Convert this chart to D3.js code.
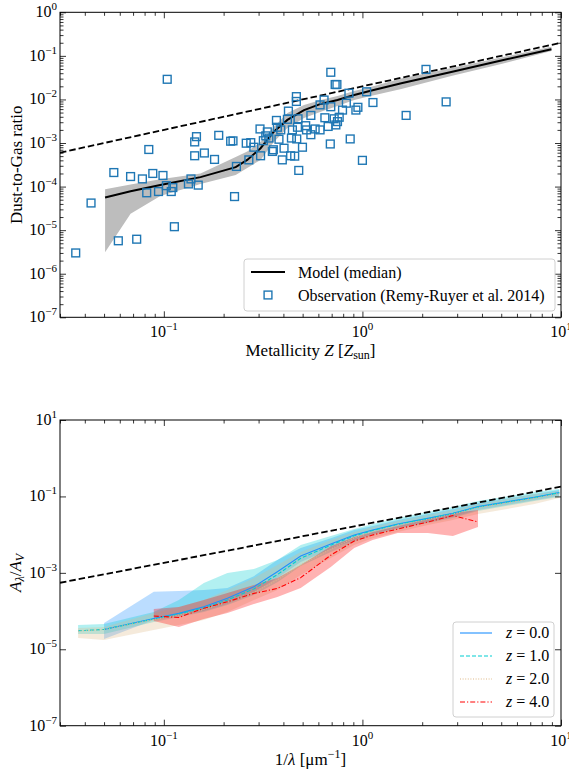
<!DOCTYPE html>
<html>
<head>
<meta charset="utf-8">
<script src="https://cdn.jsdelivr.net/npm/d3@7"></script>
<style>
  body { margin: 0; background: #fff; }
  svg { display: block; }
  text { font-family: "Liberation Serif", "Times New Roman", serif; fill: #000; }
</style>
</head>
<body>
<svg id="fig" width="569" height="772"></svg>
<script>
// ---------- Top panel: dust-to-gas ratio vs metallicity ----------
const obsZ = [0.036, 0.043, 0.059, 0.073, 0.113, 0.227, 0.104, 0.056, 0.068, 0.078,
  0.088, 0.099, 0.084, 0.082, 0.094, 0.103, 0.109, 0.111, 0.133, 0.137,
  0.149, 0.143, 0.146, 0.143, 0.160, 0.180, 0.189, 0.217, 0.223, 0.232,
  0.260, 0.274, 0.268, 0.284, 0.307, 0.305, 0.317, 0.332, 0.338, 0.352,
  0.356, 0.369, 0.373, 0.388, 0.395, 0.403, 0.419, 0.424, 0.439, 0.435,
  0.456, 0.474, 0.471, 0.467, 0.478, 0.499, 0.465, 0.465, 0.523, 0.550,
  0.550, 0.578, 0.612, 0.612, 0.641, 0.647, 0.672, 0.693, 0.729, 0.744,
  0.693, 0.689, 0.721, 0.749, 0.764, 0.735, 0.794, 0.830, 0.855, 0.868,
  0.927, 0.949, 1.00, 1.05, 1.13, 1.66, 2.09, 2.64, 0.326, 0.380,
  0.444, 0.518];
const obsDGR = [3.0e-6, 4.2e-5, 5.7e-6, 6.2e-6, 1.2e-5, 5.9e-5, 2.9e-2, 2.1e-4, 1.7e-4, 1.5e-4,
  2.0e-4, 1.8e-4, 7.1e-4, 7.2e-5, 7.7e-5, 1.05e-4, 7.7e-5, 9.5e-5, 1.15e-4, 1.5e-4,
  1.08e-4, 1.06e-3, 1.4e-3, 5.1e-4, 5.9e-4, 4.2e-4, 1.5e-3, 1.1e-3, 1.12e-3, 2.9e-4,
  9.9e-4, 1.02e-3, 4.1e-4, 8.0e-4, 5.1e-4, 2.1e-3, 1.13e-3, 1.8e-3, 1.3e-3, 6.4e-4,
  7.0e-4, 3.3e-3, 2.3e-3, 2.0e-3, 4.1e-4, 7.6e-4, 3.5e-3, 5.4e-3, 1.3e-3, 5.1e-4,
  5.0e-4, 3.6e-3, 2.3e-3, 1.24e-3, 2.35e-4, 8.0e-4, 1.16e-2, 9.0e-3, 2.0e-3, 4.3e-3,
  1.55e-3, 2.1e-3, 2.0e-3, 7.5e-3, 9.7e-3, 3.8e-3, 2.4e-3, 4.2e-2, 2.2e-2, 2.2e-2,
  6.8e-3, 9.5e-4, 3.6e-3, 3.1e-3, 3.9e-3, 2.6e-3, 5.7e-3, 8.2e-3, 1.39e-2, 1.24e-3,
  5.7e-3, 6.6e-3, 4.0e-4, 1.5e-2, 8.5e-3, 4.3e-3, 4.9e-2, 8.8e-3, 1.46e-3, 1.22e-3,
  2.0e-3, 2.5e-3];

const modelZ   = [0.0506, 0.068, 0.096, 0.153, 0.230, 0.263, 0.307, 0.358, 0.419, 0.508,
  0.617, 0.749, 0.909, 1.10, 1.57, 2.80, 5.0, 8.95];
const modelMed = [5.6e-5, 7.8e-5, 1.09e-4, 1.65e-4, 2.79e-4, 4.1e-4, 7.6e-4, 1.82e-3, 3.39e-3, 5.7e-3,
  7.9e-3, 9.7e-3, 1.27e-2, 1.59e-2, 2.35e-2, 4.27e-2, 7.8e-2, 0.142];
const modelLo  = [3.1e-6, 2.37e-5, 6.1e-5, 1.15e-4, 1.85e-4, 2.68e-4, 4.1e-4, 1.06e-3, 2.22e-3, 3.76e-3,
  5.2e-3, 7.1e-3, 9.7e-3, 1.2e-2, 1.74e-2, 3.46e-2, 6.5e-2, 0.129];
const modelHi  = [8.7e-5, 1.12e-4, 1.48e-4, 2.01e-4, 4.8e-4, 6.35e-4, 1.06e-3, 2.34e-3, 4.9e-3, 7.5e-3,
  9.7e-3, 1.2e-2, 1.57e-2, 1.94e-2, 3.03e-2, 5.3e-2, 9.2e-2, 0.163];

// reference relation (dashed)
const refZ = [0.03, 10];
const refDGR = [6.0e-4, 0.2];

// ---------- Bottom panel: extinction curves ----------
const invLambda = [0.037, 0.05, 0.089, 0.119, 0.159, 0.209, 0.284, 0.373, 0.489, 0.693,
  0.909, 1.126, 1.506, 2.134, 2.855, 3.82, 7.35, 9.8];

const z0Med = [null, 3.3e-5, 6.4e-5, 8.7e-5, 1.30e-4, 2.15e-4, 4.3e-4, 1.07e-3, 2.75e-3, 5.7e-3,
  9.8e-3, 1.32e-2, 1.89e-2, 2.67e-2, 3.6e-2, 5.4e-2, 9.5e-2, 0.126];
const z0Lo  = [null, 1.85e-5, 5.8e-5, 7.4e-5, 1.0e-4, 1.52e-4, 3.14e-4, 7.3e-4, 1.92e-3, 4.2e-3,
  7.2e-3, 1.04e-2, 1.49e-2, 2.14e-2, 2.89e-2, 4.4e-2, 8.0e-2, 0.102];
const z0Hi  = [null, 4.85e-5, 3.2e-4, 3.34e-4, 3.55e-4, 4.0e-4, 8.2e-4, 2.16e-3, 4.46e-3, 8.1e-3,
  1.32e-2, 1.68e-2, 2.41e-2, 3.46e-2, 4.68e-2, 6.7e-2, 0.116, 0.147];

const z1Med = [3.05e-5, 3.3e-5, 6.2e-5, 8.4e-5, 1.22e-4, 1.95e-4, 3.8e-4, 9.0e-4, 2.4e-3, 5.3e-3,
  9.3e-3, 1.28e-2, 1.85e-2, 2.62e-2, 3.55e-2, 5.3e-2, 9.3e-2, 0.125];
const z1Lo  = [2.5e-5, 2.5e-5, 5.15e-5, 7.0e-5, 9.4e-5, 1.44e-4, 2.62e-4, 5.7e-4, 1.51e-3, 3.5e-3,
  6.4e-3, 9.8e-3, 1.4e-2, 2.01e-2, 2.72e-2, 4.15e-2, 7.6e-2, 9.6e-2];
const z1Hi  = [4.3e-5, 4.57e-5, 9.4e-5, 1.94e-4, 5.4e-4, 9.9e-4, 1.26e-3, 2.16e-3, 5.35e-3, 9.2e-3,
  1.4e-2, 1.89e-2, 2.72e-2, 3.91e-2, 5.28e-2, 7.6e-2, 0.130, 0.156];

const z2Med = [3.0e-5, 3.3e-5, 6.0e-5, 7.8e-5, 1.1e-4, 1.7e-4, 3.1e-4, 6.5e-4, 1.6e-3, 4.2e-3,
  8.2e-3, 1.2e-2, 1.75e-2, 2.5e-2, 3.45e-2, 5.1e-2, 9.0e-2, 0.12];
const z2Lo  = [1.96e-5, 1.74e-5, 3.18e-5, 4.3e-5, 5.8e-5, 9.4e-5, 1.94e-4, 3.55e-4, 8.8e-4, 2.44e-3,
  5.35e-3, 8.1e-3, 1.17e-2, 1.78e-2, 2.41e-2, 3.46e-2, 6.3e-2, 9.1e-2];
const z2Hi  = [3.59e-5, 3.81e-5, 8.9e-5, 1.27e-4, 1.94e-4, 3.55e-4, 7.3e-4, 1.6e-3, 3.5e-3, 7.2e-3,
  1.17e-2, 1.58e-2, 2.27e-2, 3.26e-2, 4.41e-2, 6.33e-2, 0.116, 0.138];

const z4Med = [null, null, 7.4e-5, 6.8e-5, 1.18e-4, 1.75e-4, 2.9e-4, 3.9e-4, 7.5e-4, 2.9e-3,
  6.8e-3, 9.8e-3, 1.4e-2, 2.14e-2, 3.16e-2, 2.14e-2, null, null];
const z4Lo  = [null, null, 5.47e-5, 3.81e-5, 6.18e-5, 8.87e-5, 1.52e-4, 2.32e-4, 4.0e-4, 1.42e-3,
  4.46e-3, 7.2e-3, 1.1e-2, 1.1e-2, 9.2e-3, 1.58e-2, null, null];
const z4Hi  = [null, null, 1.13e-4, 1.27e-4, 1.94e-4, 2.96e-4, 4.8e-4, 7.3e-4, 1.6e-3, 5.0e-3,
  8.65e-3, 1.17e-2, 1.68e-2, 2.56e-2, 3.67e-2, 4.4e-2, null, null];

const refInvLambda = [0.03, 10];
const refExt = [5.5e-4, 0.18];

const redshiftLabels = ["0.0", "1.0", "2.0", "4.0"];

// ---------- tick values ----------
const xMajor = [0.1, 1, 10];
const xMajorExp = ["\u22121", "0", "1"];
function minorsBetween(lo, hi) {
  const out = [];
  for (let e = Math.floor(Math.log10(lo)); e < Math.ceil(Math.log10(hi)); e++) {
    for (let m = 2; m <= 9; m++) {
      const v = m * Math.pow(10, e);
      if (v >= lo && v <= hi) out.push(v);
    }
  }
  return out;
}
const topYMajor = [1e-7, 1e-6, 1e-5, 1e-4, 1e-3, 1e-2, 1e-1, 1];
const topYExp = ["\u22127", "\u22126", "\u22125", "\u22124", "\u22123", "\u22122", "\u22121", "0"];
const botYMajor = [1e-7, 1e-5, 1e-3, 1e-1, 10];
const botYExp = ["\u22127", "\u22125", "\u22123", "\u22121", "1"];

// ---------- layout ----------
const svg = d3.select("#fig");
const L = 60, R = 561;
const topBox = { left: L, right: R, top: 12.3, bottom: 317.3 };
const botBox = { left: L, right: R, top: 420, bottom: 725.7 };

const xTop = d3.scaleLog().domain([0.03, 10]).range([L, R]);
const yTop = d3.scaleLog().domain([1e-7, 1]).range([topBox.bottom, topBox.top]);
const xBot = d3.scaleLog().domain([0.03, 10]).range([L, R]);
const yBot = d3.scaleLog().domain([1e-7, 10]).range([botBox.bottom, botBox.top]);

const FS_TICK = 16, FS_SUP = 11, FS_TITLE = 17, FS_LEG = 16;

function clipFor(id, box) {
  svg.append("clipPath").attr("id", id).append("rect")
    .attr("x", box.left).attr("y", box.top)
    .attr("width", box.right - box.left).attr("height", box.bottom - box.top);
}
clipFor("clipTop", topBox);
clipFor("clipBot", botBox);

function powerLabel(sel, exp) {
  sel.append("tspan").text("10");
  sel.append("tspan").attr("dy", -7).attr("font-size", FS_SUP).text(exp);
}

function drawFrame(box, x, y, yMaj, yExp, yMinor) {
  const g = svg.append("g");
  const xMinor = minorsBetween(0.03, 10);
  const mk = (axis, tr) => {
    const a = g.append("g").attr("transform", tr).call(axis);
    a.select(".domain").remove();
    a.selectAll("line").attr("stroke", "#000").attr("stroke-width", 0.8);
    a.selectAll("text").remove();
  };
  // x ticks on bottom and top, pointing inward
  mk(d3.axisBottom(x).tickValues(xMajor).tickSize(-6), `translate(0,${box.bottom})`);
  mk(d3.axisBottom(x).tickValues(xMinor).tickSize(-3.5), `translate(0,${box.bottom})`);
  mk(d3.axisTop(x).tickValues(xMajor).tickSize(-6), `translate(0,${box.top})`);
  mk(d3.axisTop(x).tickValues(xMinor).tickSize(-3.5), `translate(0,${box.top})`);
  // y ticks on left and right
  mk(d3.axisLeft(y).tickValues(yMaj).tickSize(-6), `translate(${box.left},0)`);
  mk(d3.axisRight(y).tickValues(yMaj).tickSize(-6), `translate(${box.right},0)`);
  if (yMinor.length) {
    mk(d3.axisLeft(y).tickValues(yMinor).tickSize(-3.5), `translate(${box.left},0)`);
    mk(d3.axisRight(y).tickValues(yMinor).tickSize(-3.5), `translate(${box.right},0)`);
  }
  g.append("rect")
    .attr("x", box.left).attr("y", box.top)
    .attr("width", box.right - box.left).attr("height", box.bottom - box.top)
    .attr("fill", "none").attr("stroke", "#000").attr("stroke-width", 1);

  // tick labels
  xMajor.forEach((v, i) => {
    const t = g.append("text").attr("x", x(v)).attr("y", box.bottom + 20)
      .attr("text-anchor", "middle").attr("font-size", FS_TICK);
    powerLabel(t, xMajorExp[i]);
  });
  yMaj.forEach((v, i) => {
    const t = g.append("text").attr("x", box.left - 3).attr("y", y(v) + 5)
      .attr("text-anchor", "end").attr("font-size", FS_TICK);
    powerLabel(t, yExp[i]);
  });
}

// ================= TOP PANEL =================
const topPlot = svg.append("g").attr("clip-path", "url(#clipTop)");
const topIdx = d3.range(modelZ.length);

topPlot.append("path")
  .attr("d", d3.area()
    .x(i => xTop(modelZ[i]))
    .y0(i => yTop(modelLo[i]))
    .y1(i => yTop(modelHi[i]))(topIdx))
  .attr("fill", "#bdbdbd");

topPlot.append("path")
  .attr("d", d3.line().x(i => xTop(modelZ[i])).y(i => yTop(modelMed[i]))(topIdx))
  .attr("fill", "none").attr("stroke", "#000").attr("stroke-width", 2);

topPlot.append("path")
  .attr("d", d3.line().x(i => xTop(refZ[i])).y(i => yTop(refDGR[i]))(d3.range(refZ.length)))
  .attr("fill", "none").attr("stroke", "#000").attr("stroke-width", 1.8)
  .attr("stroke-dasharray", "6.5,3");

const sq = 7.8;
topPlot.selectAll("rect.obs").data(d3.range(obsZ.length)).join("rect")
  .attr("class", "obs")
  .attr("x", i => xTop(obsZ[i]) - sq / 2)
  .attr("y", i => yTop(obsDGR[i]) - sq / 2)
  .attr("width", sq).attr("height", sq)
  .attr("fill", "none").attr("stroke", "#1f77b4").attr("stroke-width", 1.4);

drawFrame(topBox, xTop, yTop, topYMajor, topYExp, minorsBetween(1e-7, 1));

// axis titles
svg.append("text")
  .attr("transform", `translate(22,${(topBox.top + topBox.bottom) / 2}) rotate(-90)`)
  .attr("text-anchor", "middle").attr("font-size", FS_TITLE)
  .text("Dust-to-Gas ratio");
{
  const t = svg.append("text").attr("x", (L + R) / 2).attr("y", 356)
    .attr("text-anchor", "middle").attr("font-size", FS_TITLE);
  t.append("tspan").text("Metallicity ");
  t.append("tspan").attr("font-style", "italic").text("Z");
  t.append("tspan").text(" [");
  t.append("tspan").attr("font-style", "italic").text("Z");
  t.append("tspan").attr("dy", 3).attr("font-size", 12).text("sun");
  t.append("tspan").attr("dy", -3).text("]");
}

// legend (top)
{
  const g = svg.append("g");
  g.append("rect").attr("x", 244).attr("y", 259).attr("width", 311).attr("height", 52)
    .attr("rx", 3).attr("fill", "#fff").attr("fill-opacity", 0.8)
    .attr("stroke", "#d0d0d0").attr("stroke-width", 1);
  g.append("line").attr("x1", 251).attr("x2", 285).attr("y1", 272).attr("y2", 272)
    .attr("stroke", "#000").attr("stroke-width", 2);
  g.append("text").attr("x", 298).attr("y", 277.5).attr("font-size", FS_LEG).text("Model (median)");
  g.append("rect").attr("x", 268 - sq / 2).attr("y", 295 - sq / 2).attr("width", sq).attr("height", sq)
    .attr("fill", "none").attr("stroke", "#1f77b4").attr("stroke-width", 1.4);
  g.append("text").attr("x", 298).attr("y", 300.5).attr("font-size", FS_LEG)
    .text("Observation (Remy-Ruyer et al. 2014)");
}

// ================= BOTTOM PANEL =================
const botPlot = svg.append("g").attr("clip-path", "url(#clipBot)");
const series = [
  { med: z0Med, lo: z0Lo, hi: z0Hi, color: "#1e90ff", dash: null,        width: 1.1 },
  { med: z1Med, lo: z1Lo, hi: z1Hi, color: "#00ced1", dash: "4,2",       width: 1.1 },
  { med: z2Med, lo: z2Lo, hi: z2Hi, color: "#deb887", dash: "1,1.6",     width: 1.1 },
  { med: z4Med, lo: z4Lo, hi: z4Hi, color: "#ff0000", dash: "5,2,1.2,2", width: 1.1 }
];
const botIdx = d3.range(invLambda.length);

series.forEach(s => {
  botPlot.append("path")
    .attr("d", d3.area()
      .defined(i => s.lo[i] != null && s.hi[i] != null)
      .x(i => xBot(invLambda[i]))
      .y0(i => yBot(s.lo[i]))
      .y1(i => yBot(s.hi[i]))(botIdx))
    .attr("fill", s.color).attr("fill-opacity", 0.3);
});
series.forEach(s => {
  const p = botPlot.append("path")
    .attr("d", d3.line()
      .defined(i => s.med[i] != null)
      .x(i => xBot(invLambda[i]))
      .y(i => yBot(s.med[i]))(botIdx))
    .attr("fill", "none").attr("stroke", s.color).attr("stroke-width", s.width);
  if (s.dash) p.attr("stroke-dasharray", s.dash);
});

botPlot.append("path")
  .attr("d", d3.line().x(i => xBot(refInvLambda[i])).y(i => yBot(refExt[i]))(d3.range(refInvLambda.length)))
  .attr("fill", "none").attr("stroke", "#000").attr("stroke-width", 1.8)
  .attr("stroke-dasharray", "6.5,3");

drawFrame(botBox, xBot, yBot, botYMajor, botYExp, []);

// axis titles (bottom)
{
  const t = svg.append("text")
    .attr("transform", `translate(21,${(botBox.top + botBox.bottom) / 2}) rotate(-90)`)
    .attr("text-anchor", "middle").attr("font-size", FS_TITLE);
  t.append("tspan").attr("font-style", "italic").text("A");
  t.append("tspan").attr("font-style", "italic").attr("dy", 3).attr("font-size", 12).text("\u03bb");
  t.append("tspan").attr("dy", -3).text("/");
  t.append("tspan").attr("font-style", "italic").text("A");
  t.append("tspan").attr("font-style", "italic").attr("dy", 3).attr("font-size", 12).text("V");
}
{
  const t = svg.append("text").attr("x", (L + R) / 2).attr("y", 765)
    .attr("text-anchor", "middle").attr("font-size", FS_TITLE);
  t.append("tspan").text("1/");
  t.append("tspan").attr("font-style", "italic").text("\u03bb");
  t.append("tspan").text(" [\u03bcm");
  t.append("tspan").attr("dy", -7).attr("font-size", 12).text("\u22121");
  t.append("tspan").attr("dy", 7).text("]");
}

// legend (bottom)
{
  const g = svg.append("g");
  g.append("rect").attr("x", 453).attr("y", 622).attr("width", 101).attr("height", 95)
    .attr("rx", 3).attr("fill", "#fff").attr("fill-opacity", 0.8)
    .attr("stroke", "#d0d0d0").attr("stroke-width", 1);
  series.forEach((s, i) => {
    const yy = 633 + i * 23;
    const ln = g.append("line").attr("x1", 460).attr("x2", 492).attr("y1", yy).attr("y2", yy)
      .attr("stroke", s.color).attr("stroke-width", s.width);
    if (s.dash) ln.attr("stroke-dasharray", s.dash);
    const t = g.append("text").attr("x", 506).attr("y", yy + 5).attr("font-size", FS_LEG);
    t.append("tspan").attr("font-style", "italic").text("z");
    t.append("tspan").text(" = " + redshiftLabels[i]);
  });
}
</script>
</body>
</html>
